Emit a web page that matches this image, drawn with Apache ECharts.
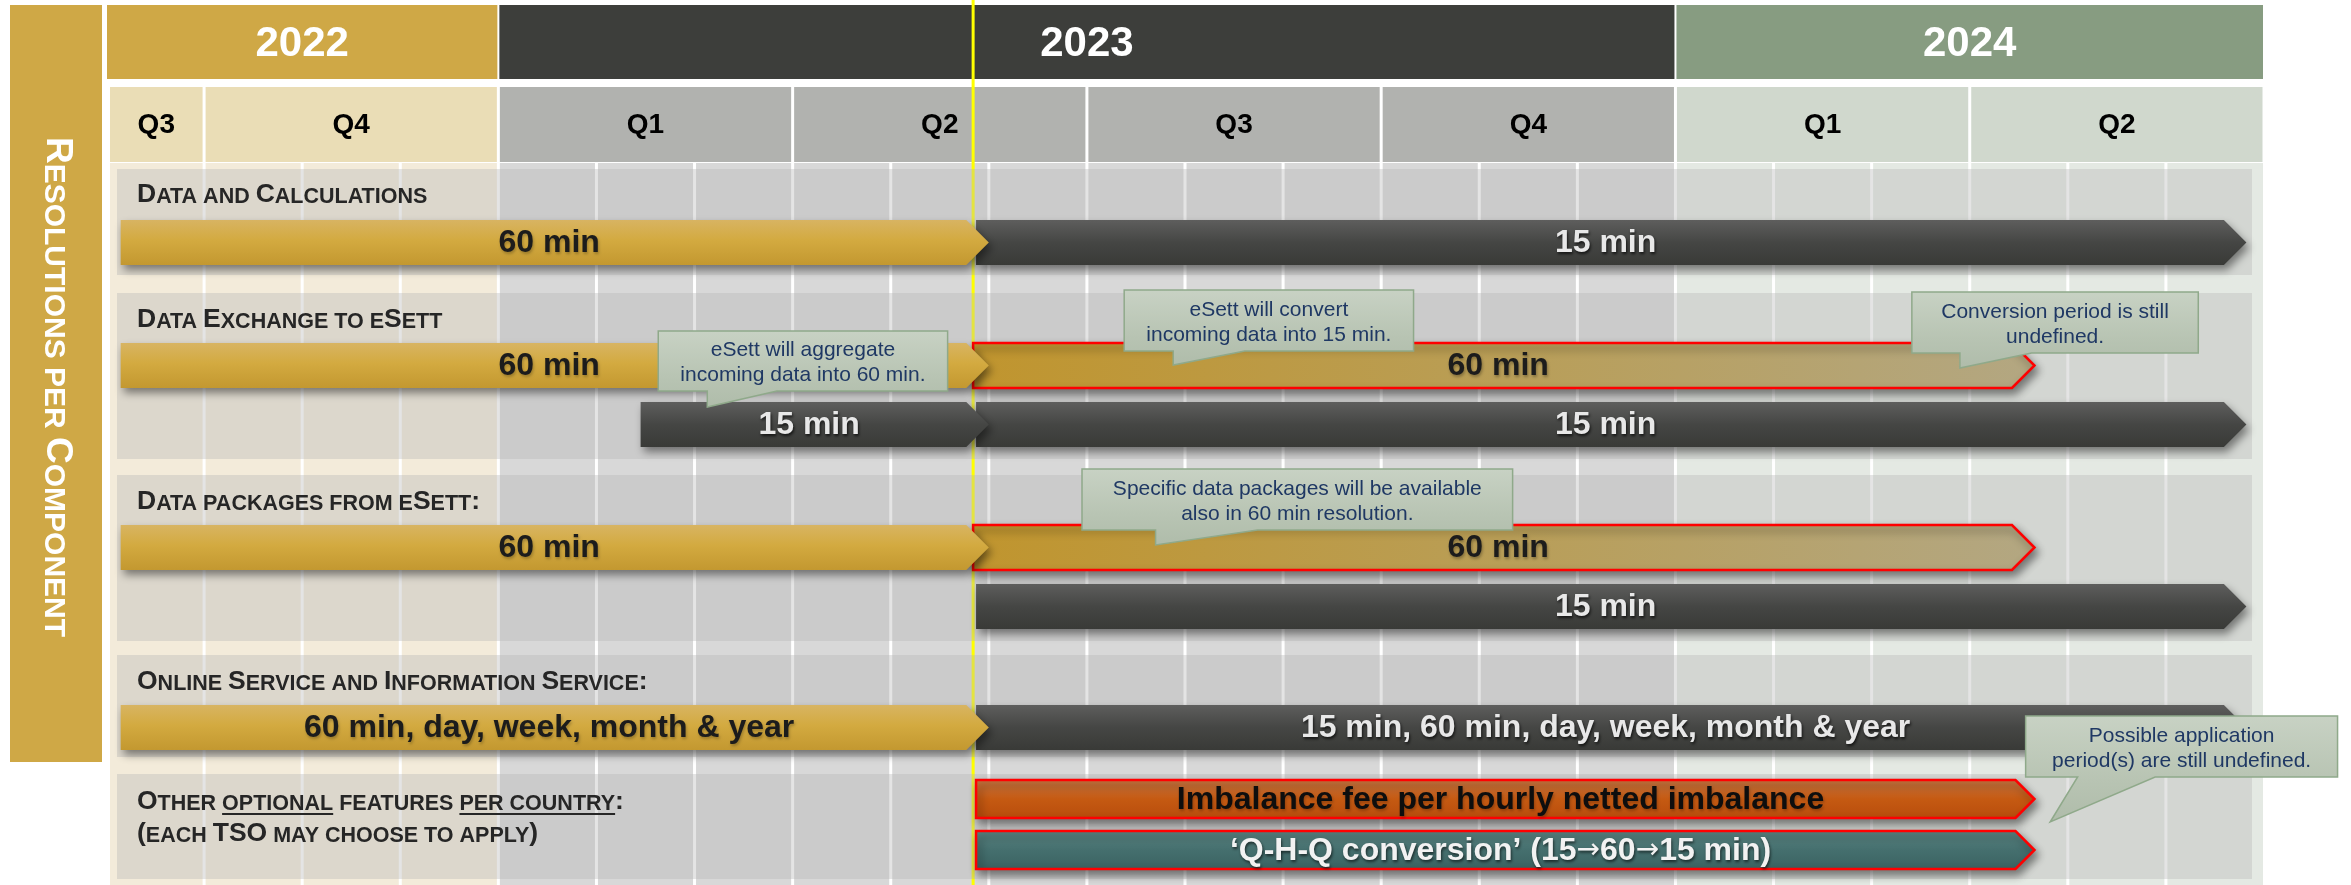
<!DOCTYPE html>
<html>
<head>
<meta charset="utf-8">
<script src="https://cdn.jsdelivr.net/npm/echarts@6/dist/echarts.min.js"></script>
<style>
html,body{margin:0;padding:0;background:#ffffff;}
#chart{width:2351px;height:885px;}
</style>
</head>
<body>
<div id="chart"></div>
<script>
// ================= DATA =================
// x values are months counted from 1 Jan 2022 (Sep 2022 = 8, Jan 2023 = 12, Jul 2024 = 30)
const years = ['2022', '2023', '2024'];
const yearStart = [8, 12, 24];
const yearEnd = [12, 24, 30];

const quarters = ['Q3', 'Q4', 'Q1', 'Q2', 'Q3', 'Q4', 'Q1', 'Q2'];
const quarterStart = [8, 9, 12, 15, 18, 21, 24, 27];
const quarterEnd = [9, 12, 15, 18, 21, 24, 27, 30];

const transitionMonth = [16.84];   // yellow go-live line (late May 2023)

const sideTitle = 'Resolutions per Component';
const sectionTitles = [
  'Data and Calculations',
  'Data Exchange to eSett',
  'Data packages from eSett:',
  'Online Service and Information Service:',
  'Other _optional_ features _per country_:'
];
const sectionSubtitles = ['', '', '', '', '(each TSO may choose to apply)'];

// bars (listed back to front)
const barLabels = [
  '15 min', '60 min',
  '60 min', '60 min', '15 min', '15 min',
  '60 min', '60 min', '15 min',
  '15 min, 60 min, day, week, month & year', '60 min, day, week, month & year',
  'Imbalance fee per hourly netted imbalance', '\u2018Q-H-Q conversion\u2019 (15\u219260\u219215 min)'
];
const barSection = [0, 0, 1, 1, 1, 1, 2, 2, 2, 3, 3, 4, 4];
const barLane    = [0, 0, 0, 0, 1, 1, 0, 0, 1, 0, 0, 0, 1];
const barStart   = [16.87, 8.15, 16.84, 8.15, 16.87, 13.45, 16.84, 8.15, 16.87, 16.87, 8.15, 16.87, 16.87];
const barEnd     = [29.82, 17.0, 27.66, 17.0, 29.82, 17.0, 27.66, 17.0, 29.82, 29.82, 17.0, 27.66, 27.66];
const barKind    = ['dark', 'gold', 'faded', 'gold', 'dark', 'dark', 'faded', 'gold', 'dark', 'dark', 'gold', 'orange', 'teal'];

const calloutText = [
  'eSett will aggregate\nincoming data into 60 min.',
  'eSett will convert\nincoming data into 15 min.',
  'Conversion period is still\nundefined.',
  'Specific data packages will be available\nalso in 60 min resolution.',
  'Possible application\nperiod(s) are still undefined.'
];

// ================= LAYOUT (vertical axis units, 0 = top) =================
const L = {
  yMax: 885,
  yearRow: [5, 79],
  quarterRow: [87, 162],
  contentTop: 163,
  sectionTop:    [169, 293, 475, 655, 774],
  sectionBottom: [275, 459, 641, 757, 879],
  titleY: [195, 320, 502, 682, 802],
  subtitleY: 834,
  laneY: [[242.5], [365.5, 424.5], [547.5, 606.5], [727.5], [799, 850]],
  barH: 45,
  thinBarH: 38
};
// callout anchors: box [m0, m1, yTop, yBottom], tail [baseLeft m, baseRight m, tip m, tip y]
const calloutBox = [
  [13.63, 16.58, 331, 391],
  [18.38, 21.33, 290, 351],
  [26.41, 29.33, 292, 353],
  [17.95, 22.34, 469, 530],
  [27.57, 30.75, 716, 777]
];
const calloutTail = [
  [14.13, 14.84, 14.13, 407],
  [18.88, 19.61, 18.88, 365],
  [26.90, 27.63, 26.90, 368],
  [18.70, 19.74, 18.70, 545],
  [28.10, 28.89, 27.82, 822]
];

// ================= STYLE =================
const FF = '"Liberation Sans", Arial, Helvetica, sans-serif';
const yearColors = ['#CFA846', '#3D3E3B', '#879C81'];
const quarterColors = { '2022': '#EADDB6', '2023': '#B1B2AF', '2024': '#D0D8CD' };
const contentColors = ['#F3EBDA', '#D8D8D8', '#E4E9E3'];
const vgrad = (stops) => ({ type: 'linear', x: 0, y: 0, x2: 0, y2: 1, colorStops: stops.map(s => ({ offset: s[0], color: s[1] })) });
const hgrad = (stops) => ({ type: 'linear', x: 0, y: 0, x2: 1, y2: 0, colorStops: stops.map(s => ({ offset: s[0], color: s[1] })) });
const barStyles = {
  gold:   { fill: vgrad([[0, '#D8B462'], [0.45, '#D3AA40'], [1, '#C39830']]), text: '#1C1C1C', tsc: 'rgba(0,0,0,0.25)' },
  dark:   { fill: vgrad([[0, '#5E5E5D'], [0.5, '#454644'], [1, '#393A37']]), text: '#E8E8E8', tsc: 'rgba(0,0,0,0.7)' },
  faded:  { fill: hgrad([[0, '#C0952E'], [0.5, '#B99E57'], [1, '#B3A782']]), stroke: '#FF0000', text: '#1C1C1C', tsc: 'rgba(0,0,0,0.3)' },
  orange: { fill: vgrad([[0, '#CA7845'], [0.5, '#C55A12'], [1, '#B84C0C']]), stroke: '#FF0000', text: '#0E0E0E', tsc: 'rgba(0,0,0,0.25)' },
  teal:   { fill: vgrad([[0, '#5D8785'], [0.5, '#456F6E'], [1, '#3A6261']]), stroke: '#FF0000', text: '#F2F2F2', tsc: 'rgba(0,0,0,0.6)' }
};
const TITLE_B = 26.5, TITLE_S = 21.5;

// ================= HELPERS =================
const mctx = document.createElement('canvas').getContext('2d');
function textW(str, font) { mctx.font = font; return mctx.measureText(str).width; }
function capsRuns(str) {
  const runs = []; let u = false;
  for (const ch of str) {
    if (ch === '_') { u = !u; continue; }
    const lower = ch !== ch.toUpperCase();
    const s = (lower || ch === ' ') ? 's' : 'b';
    const t = ch.toUpperCase();
    const last = runs[runs.length - 1];
    if (last && last.s === s && last.u === u) last.t += t; else runs.push({ t, s, u });
  }
  return runs;
}
function capsElement(str, x, y, B, S, color) {
  const runs = capsRuns(str);
  const fonts = { b: `bold ${B}px ${FF}`, s: `bold ${S}px ${FF}` };
  const rich = {
    b: { fontSize: B, fontWeight: 'bold', fontFamily: FF, fill: color, verticalAlign: 'bottom' },
    s: { fontSize: S, fontWeight: 'bold', fontFamily: FF, fill: color, verticalAlign: 'bottom' }
  };
  const text = runs.map(r => `{${r.s}|${r.t}}`).join('');
  const children = [{ type: 'text', style: { text, rich, x, y, align: 'left', verticalAlign: 'middle', fill: color } }];
  let cx = x;
  runs.forEach(r => {
    const w = textW(r.t, fonts[r.s]);
    if (r.u) {
      const uy = y + B * 0.36 + 2.5;
      children.push({ type: 'line', shape: { x1: cx, y1: uy, x2: cx + w, y2: uy }, style: { stroke: color, lineWidth: 2 } });
    }
    cx += w;
  });
  return children;
}
// bar label: render arrows with a font that has a full-size arrow glyph
function barRich(label, fill, tsc) {
  const base = { fontSize: 32, fontWeight: 'bold', fontFamily: FF, fill, textShadowColor: tsc, textShadowBlur: 3, textShadowOffsetX: 1, textShadowOffsetY: 2 };
  const parts = label.split('\u2192');
  const text = parts.map(p => `{t|${p}}`).join('{a|\u2192}');
  return {
    text,
    rich: {
      t: base,
      a: Object.assign({}, base, { fontFamily: '"DejaVu Sans", sans-serif', fontSize: 28, fontWeight: 'normal' })
    }
  };
}

const monthTicks = [];
for (let m = yearStart[0] + 1; m < yearEnd[yearEnd.length - 1]; m++) monthTicks.push(m);
const xMin = yearStart[0], xMax = yearEnd[yearEnd.length - 1];
const yearOf = (m) => { for (let i = 0; i < years.length; i++) if (m >= yearStart[i] && m < yearEnd[i]) return i; return years.length - 1; };

// ================= CHART =================
const chart = echarts.init(document.getElementById('chart'), null, { renderer: 'canvas' });

const sideRuns = capsRuns(sideTitle);
const sideText = sideRuns.map(r => `{${r.s}|${r.t}}`).join('');

const option = {
  animation: false,
  backgroundColor: '#ffffff',
  grid: { left: 106, right: 87, top: 0, bottom: 0 },
  xAxis: { type: 'value', min: xMin, max: xMax, interval: 1, show: false },
  yAxis: { type: 'value', min: 0, max: L.yMax, inverse: true, show: false },
  graphic: [
    { type: 'rect', left: 10, top: 5, shape: { width: 92, height: 757 }, style: { fill: '#CFA846' }, z: 10 },
    {
      type: 'text', x: 57, y: 387, rotation: -Math.PI / 2, z: 11,
      style: {
        text: sideText, align: 'center', verticalAlign: 'middle', fill: '#ffffff',
        rich: {
          b: { fontSize: 37, fontWeight: 'bold', fontFamily: FF, fill: '#ffffff', verticalAlign: 'bottom' },
          s: { fontSize: 30, fontWeight: 'bold', fontFamily: FF, fill: '#ffffff', verticalAlign: 'bottom' }
        }
      }
    }
  ],
  series: [
    // content column backgrounds
    {
      type: 'custom', z: 1, silent: true,
      data: years.map((y, i) => [yearStart[i], yearEnd[i]]),
      renderItem: (params, api) => {
        const i = params.dataIndex;
        const a = api.coord([yearStart[i], L.contentTop]);
        const b = api.coord([yearEnd[i], L.yMax]);
        const x0 = a[0] + (i === 0 ? 4 : 0), x1 = b[0] - (i === years.length - 1 ? 1 : 0);
        return { type: 'rect', shape: { x: x0, y: a[1], width: x1 - x0, height: b[1] - a[1] }, style: { fill: contentColors[i] } };
      }
    },
    // month grid lines
    {
      type: 'custom', z: 2, silent: true,
      data: monthTicks.map(m => [m]),
      renderItem: (params, api) => {
        const m = monthTicks[params.dataIndex];
        const a = api.coord([m, L.contentTop]);
        const b = api.coord([m, L.yMax]);
        return { type: 'line', shape: { x1: a[0], y1: a[1], x2: b[0], y2: b[1] }, style: { stroke: '#FFFFFF', lineWidth: 3 } };
      }
    },
    // year header cells
    {
      type: 'custom', z: 3, silent: true,
      data: years.map((y, i) => [yearStart[i], yearEnd[i]]),
      renderItem: (params, api) => {
        const i = params.dataIndex;
        const a = api.coord([yearStart[i], L.yearRow[0]]);
        const b = api.coord([yearEnd[i], L.yearRow[1]]);
        const x0 = a[0] + 1, x1 = b[0] - 1;
        return {
          type: 'group', children: [
            { type: 'rect', shape: { x: x0, y: a[1], width: x1 - x0, height: b[1] - a[1] }, style: { fill: yearColors[i] } },
            { type: 'text', style: { text: years[i], x: (x0 + x1) / 2, y: (a[1] + b[1]) / 2 + 2, align: 'center', verticalAlign: 'middle', font: `bold 42px ${FF}`, fill: '#FFFFFF' } }
          ]
        };
      }
    },
    // quarter header cells
    {
      type: 'custom', z: 3, silent: true,
      data: quarters.map((q, i) => [quarterStart[i], quarterEnd[i]]),
      renderItem: (params, api) => {
        const i = params.dataIndex;
        const a = api.coord([quarterStart[i], L.quarterRow[0]]);
        const b = api.coord([quarterEnd[i], L.quarterRow[1]]);
        const x0 = a[0] + (i === 0 ? 4 : 1.5), x1 = b[0] - 1.5;
        const col = quarterColors[years[yearOf(quarterStart[i])]];
        return {
          type: 'group', children: [
            { type: 'rect', shape: { x: x0, y: a[1], width: x1 - x0, height: b[1] - a[1] }, style: { fill: col } },
            { type: 'text', style: { text: quarters[i], x: (x0 + x1) / 2, y: (a[1] + b[1]) / 2 + 1, align: 'center', verticalAlign: 'middle', font: `bold 28px ${FF}`, fill: '#000000' } }
          ]
        };
      }
    },
    // yellow transition line
    {
      type: 'custom', z: 4, silent: true,
      data: transitionMonth.map(m => [m]),
      renderItem: (params, api) => {
        const m = transitionMonth[params.dataIndex];
        const a = api.coord([m, 0]);
        const b = api.coord([m, L.yMax]);
        return { type: 'line', shape: { x1: a[0], y1: a[1], x2: b[0], y2: b[1] }, style: { stroke: '#FFFF00', lineWidth: 3 } };
      }
    },
    // section bands
    {
      type: 'custom', z: 5, silent: true,
      data: sectionTitles.map((t, i) => [i]),
      renderItem: (params, api) => {
        const i = params.dataIndex;
        const a = api.coord([xMin, L.sectionTop[i]]);
        const b = api.coord([xMax, L.sectionBottom[i]]);
        const x0 = a[0] + 11, x1 = b[0] - 12;
        return { type: 'rect', shape: { x: x0, y: a[1], width: x1 - x0, height: b[1] - a[1] }, style: { fill: 'rgba(179,179,179,0.36)' } };
      }
    },
    // section titles
    {
      type: 'custom', z: 6, silent: true,
      data: sectionTitles.map((t, i) => [i]),
      renderItem: (params, api) => {
        const i = params.dataIndex;
        const a = api.coord([xMin, L.titleY[i]]);
        const x = a[0] + 31;
        let children = capsElement(sectionTitles[i], x, a[1], TITLE_B, TITLE_S, '#262626');
        if (sectionSubtitles[i]) {
          const s = api.coord([xMin, L.subtitleY]);
          children = children.concat(capsElement(sectionSubtitles[i], x, s[1], TITLE_B, TITLE_S, '#262626'));
        }
        return { type: 'group', children };
      }
    },
    // resolution bars
    {
      type: 'custom', z: 7, silent: true,
      data: barLabels.map((t, i) => [barStart[i], barEnd[i]]),
      renderItem: (params, api) => {
        const i = params.dataIndex;
        const yc = L.laneY[barSection[i]][barLane[i]];
        const h = barSection[i] === 4 ? L.thinBarH : L.barH;
        const p0 = api.coord([barStart[i], yc]);
        const p1 = api.coord([barEnd[i], yc]);
        const x0 = p0[0], x1 = p1[0], y = p0[1], hh = h / 2, head = hh;
        const st = barStyles[barKind[i]];
        const lab = barRich(barLabels[i], st.text, st.tsc);
        return {
          type: 'group', children: [
            {
              type: 'polygon',
              shape: { points: [[x0, y - hh], [x1 - head, y - hh], [x1, y], [x1 - head, y + hh], [x0, y + hh]] },
              style: {
                fill: st.fill, stroke: st.stroke || null, lineWidth: st.stroke ? 2.5 : 0,
                shadowBlur: 8, shadowOffsetX: 3, shadowOffsetY: 5, shadowColor: 'rgba(0,0,0,0.45)'
              }
            },
            {
              type: 'text',
              style: {
                text: lab.text, rich: lab.rich, x: (x0 + x1) / 2 - head / 4, y: y + 1, align: 'center', verticalAlign: 'middle',
                font: `bold 32px ${FF}`, fill: st.text
              }
            }
          ]
        };
      }
    },
    // callouts
    {
      type: 'custom', z: 8, silent: true, clip: false,
      data: calloutText.map((t, i) => [calloutBox[i][0], calloutBox[i][1]]),
      renderItem: (params, api) => {
        const i = params.dataIndex;
        const bx = calloutBox[i], tl = calloutTail[i];
        const a = api.coord([bx[0], bx[2]]);
        const b = api.coord([bx[1], bx[3]]);
        const tL = api.coord([tl[0], bx[3]])[0];
        const tR = api.coord([tl[1], bx[3]])[0];
        const tip = api.coord([tl[2], tl[3]]);
        return {
          type: 'group', children: [
            {
              type: 'polygon',
              shape: { points: [[a[0], a[1]], [b[0], a[1]], [b[0], b[1]], [tR, b[1]], tip, [tL, b[1]], [a[0], b[1]]] },
              style: { fill: vgrad([[0, '#C8D2C4'], [0.6, '#B8C4B3'], [1, '#AFBCAA']]), stroke: '#8FA98A', lineWidth: 1.5 }
            },
            {
              type: 'text',
              style: {
                text: calloutText[i], x: (a[0] + b[0]) / 2, y: (a[1] + b[1]) / 2 + 2, align: 'center', verticalAlign: 'middle',
                font: `21px ${FF}`, lineHeight: 25, fill: '#1F3864'
              }
            }
          ]
        };
      }
    }
  ]
};
chart.setOption(option);
</script>
</body>
</html>
